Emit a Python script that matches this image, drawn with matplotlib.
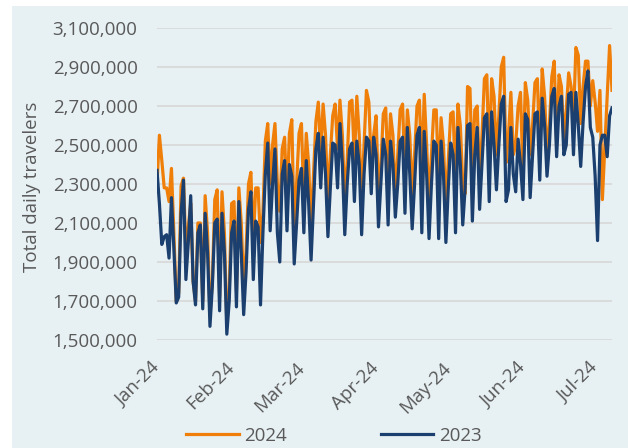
import numpy as np
import pandas as pd
import matplotlib
matplotlib.use('Agg')
import matplotlib.pyplot as plt
import matplotlib.dates as mdates
from matplotlib.patches import Rectangle
from matplotlib.ticker import FuncFormatter, FixedLocator

# daily checkpoint travelers (millions), Jan 1 - Jul 8 2024, 2023 aligned by weekday
start_date = '2024-01-01'
travelers_2024 = [
    2.30, 2.55, 2.42, 2.28, 2.28, 2.21, 2.38,
    2.05, 1.70, 1.74, 2.29, 2.33, 1.95, 2.08,
    2.20, 1.80, 1.70, 2.10, 2.10, 1.70, 2.24,
    2.05, 1.63, 1.80, 2.22, 2.27, 1.72, 2.26,
    2.05, 1.58, 1.75, 2.20, 2.21, 1.75, 2.28,
    2.10, 1.77, 1.95, 2.30, 2.36, 2.00, 2.28,
    2.28, 2.00, 2.15, 2.52, 2.61, 2.30, 2.50,
    2.61, 2.30, 2.16, 2.48, 2.54, 2.20, 2.56,
    2.63, 2.05, 2.30, 2.56, 2.61, 2.20, 2.56,
    2.40, 2.07, 2.35, 2.62, 2.72, 2.46, 2.71,
    2.55, 2.22, 2.45, 2.65, 2.71, 2.48, 2.73,
    2.55, 2.20, 2.42, 2.72, 2.73, 2.42, 2.75,
    2.55, 2.22, 2.50, 2.78, 2.72, 2.40, 2.55,
    2.65, 2.25, 2.40, 2.66, 2.69, 2.35, 2.66,
    2.55, 2.22, 2.45, 2.68, 2.71, 2.35, 2.68,
    2.55, 2.25, 2.45, 2.70, 2.73, 2.35, 2.76,
    2.50, 2.20, 2.45, 2.68, 2.68, 2.30, 2.64,
    2.50, 2.18, 2.42, 2.66, 2.67, 2.30, 2.71,
    2.60, 2.30, 2.25, 2.80, 2.79, 2.35, 2.68,
    2.70, 2.30, 2.55, 2.84, 2.86, 2.40, 2.84,
    2.75, 2.45, 2.65, 2.90, 2.95, 2.41, 2.55,
    2.77, 2.45, 2.50, 2.70, 2.77, 2.35, 2.82,
    2.73, 2.45, 2.60, 2.82, 2.84, 2.45, 2.89,
    2.75, 2.46, 2.60, 2.85, 2.93, 2.50, 2.86,
    2.80, 2.52, 2.68, 2.87, 2.80, 2.63, 3.00,
    2.96, 2.61, 2.80, 2.93, 2.93, 2.70, 2.83,
    2.72, 2.57, 2.78, 2.22, 2.49, 2.75, 3.01,
    2.78,
]
travelers_2023 = [
    2.37, 2.20, 1.99, 2.03, 2.04, 1.92, 2.23,
    1.97, 1.69, 1.72, 2.15, 2.32, 1.81, 2.00,
    2.24, 1.80, 1.68, 2.05, 2.09, 1.66, 2.15,
    1.95, 1.57, 1.78, 2.10, 2.12, 1.65, 2.15,
    1.95, 1.53, 1.70, 2.05, 2.11, 1.67, 2.21,
    1.95, 1.63, 1.85, 2.17, 2.26, 1.81, 2.11,
    2.08, 1.68, 2.05, 2.35, 2.51, 2.06, 2.30,
    2.48, 2.05, 1.90, 2.35, 2.42, 2.06, 2.40,
    2.34, 1.89, 2.10, 2.32, 2.38, 2.05, 2.42,
    2.20, 1.91, 2.20, 2.48, 2.56, 2.28, 2.54,
    2.35, 2.03, 2.28, 2.51, 2.50, 2.28, 2.61,
    2.40, 2.04, 2.30, 2.48, 2.51, 2.21, 2.52,
    2.40, 2.04, 2.35, 2.54, 2.52, 2.25, 2.54,
    2.45, 2.08, 2.30, 2.53, 2.45, 2.09, 2.52,
    2.40, 2.13, 2.30, 2.52, 2.54, 2.15, 2.59,
    2.35, 2.07, 2.30, 2.55, 2.59, 2.05, 2.57,
    2.35, 2.02, 2.30, 2.52, 2.50, 2.02, 2.52,
    2.35, 2.00, 2.28, 2.51, 2.45, 2.05, 2.59,
    2.40, 2.09, 2.28, 2.60, 2.61, 2.11, 2.45,
    2.59, 2.17, 2.40, 2.64, 2.66, 2.21, 2.67,
    2.50, 2.27, 2.50, 2.71, 2.75, 2.21, 2.27,
    2.59, 2.35, 2.26, 2.53, 2.40, 2.22, 2.66,
    2.63, 2.23, 2.45, 2.66, 2.67, 2.32, 2.74,
    2.60, 2.34, 2.50, 2.75, 2.79, 2.44, 2.70,
    2.75, 2.45, 2.50, 2.76, 2.77, 2.45, 2.77,
    2.60, 2.39, 2.62, 2.80, 2.88, 2.59, 2.54,
    2.34, 2.01, 2.50, 2.55, 2.55, 2.44, 2.65,
    2.69,
]
series_labels = ['2024', '2023']
y_ticks = [1500000, 1700000, 1900000, 2100000, 2300000, 2500000, 2700000, 2900000, 3100000]

orange = '#F07F09'
navy = '#1B3F6E'
bg = '#E7F0F3'
grid_c = '#D9D9D9'
text_c = '#595959'

plt.rcParams['font.family'] = ['Open Sans', 'DejaVu Sans']

dates = pd.date_range(start_date, periods=len(travelers_2024), freq='D')
y24 = np.array(travelers_2024) * 1e6
y23 = np.array(travelers_2023) * 1e6

W, H = 628, 448
fig = plt.figure(figsize=(W / 100, H / 100), dpi=100)
fig.patch.set_facecolor('white')
# light panel behind the chart, white strip at top and left
fig.patches.append(Rectangle((12 / W, 0), 1, (H - 6) / H, transform=fig.transFigure,
                             facecolor=bg, edgecolor='none', zorder=-10))

ax = fig.add_axes([157 / W, (H - 340) / H, (612 - 157) / W, (340 - 28) / H])
ax.set_facecolor('none')

ax.plot(dates, y24, color=orange, lw=2.3, label=series_labels[0], zorder=3)
ax.plot(dates, y23, color=navy, lw=2.3, label=series_labels[1], zorder=4)

ax.set_xlim(dates[0], dates[-1])
ax.set_ylim(1500000, 3100000)
ax.yaxis.set_major_locator(FixedLocator(y_ticks))
ax.yaxis.set_major_formatter(FuncFormatter(lambda v, p: '{:,.0f}'.format(v)))
ax.xaxis.set_major_locator(mdates.MonthLocator())
ax.xaxis.set_major_formatter(mdates.DateFormatter('%b-%y'))

ax.grid(axis='y', color=grid_c, lw=1.3)
ax.set_axisbelow(True)
for s in ax.spines.values():
    s.set_visible(False)

ax.tick_params(axis='y', length=0, pad=14, labelsize=13.5, labelcolor=text_c)
ax.tick_params(axis='x', length=0, pad=18, labelsize=13.5, labelcolor=text_c)
for lab in ax.get_xticklabels():
    lab.set_rotation(45)
    lab.set_ha('right')
    lab.set_va('center')
    lab.set_rotation_mode('anchor')

ax.set_ylabel('Total daily travelers', fontsize=13.5, color=text_c)
ax.yaxis.set_label_coords(-0.255, 0.49)

fig.legend(loc='center', bbox_to_anchor=(334 / W, 1 - 436 / H), ncol=2, frameon=False,
           fontsize=13.5, handlelength=2.8, handletextpad=0.3, columnspacing=5.0,
           labelcolor=text_c)

fig.savefig('out.png', dpi=100, facecolor=fig.get_facecolor())
